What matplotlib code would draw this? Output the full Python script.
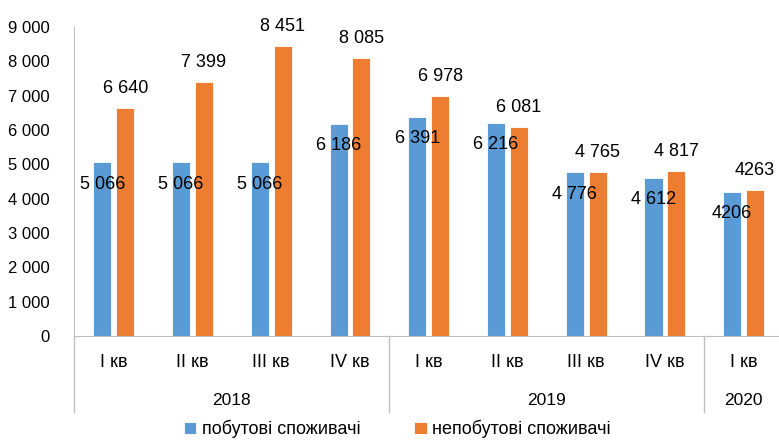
import numpy as np
import matplotlib.pyplot as plt

plt.rcParams['font.family'] = ['Liberation Sans', 'DejaVu Sans']

quarters = ["I кв", "II кв", "III кв", "IV кв", "I кв", "II кв", "III кв", "IV кв", "I кв"]
years = ["2018", "2019", "2020"]
year_sizes = [4, 4, 1]
pobutovi = [5066, 5066, 5066, 6186, 6391, 6216, 4776, 4612, 4206]
nepobutovi = [6640, 7399, 8451, 8085, 6978, 6081, 4765, 4817, 4263]
labels_pob = ["5 066", "5 066", "5 066", "6 186", "6 391", "6 216", "4 776", "4 612", "4206"]
labels_nepob = ["6 640", "7 399", "8 451", "8 085", "6 978", "6 081", "4 765", "4 817", "4263"]

blue = "#5B9BD5"
orange = "#ED7D31"

fig = plt.figure(figsize=(7.79, 4.40), dpi=100)
ax = fig.add_axes([0.0956, 0.2364, 0.9095, 0.7023])

x = np.arange(len(quarters))
w = 0.23
b1 = ax.bar(x - 0.145, pobutovi, w, color=blue, edgecolor="white", linewidth=0.6,
            label="побутові споживачі")
b2 = ax.bar(x + 0.145, nepobutovi, w, color=orange, edgecolor="white", linewidth=0.6,
            label="непобутові споживачі")

# підписи значень
for xi, v, t in zip(x, pobutovi, labels_pob):
    ax.annotate(t, (xi - 0.145, v), xytext=(0, -16), textcoords="offset points",
                ha="center", va="center", fontsize=13, color="black")
for xi, v, t in zip(x, nepobutovi, labels_nepob):
    ax.annotate(t, (xi + 0.145, v), xytext=(0, 14), textcoords="offset points",
                ha="center", va="center", fontsize=13, color="black",
                annotation_clip=False)

ax.set_xlim(-0.5, len(quarters) - 0.5)
ax.set_ylim(0, 9000)
ax.set_yticks(np.arange(0, 9001, 1000))
ax.set_yticklabels([f"{v:,}".replace(",", " ") for v in range(0, 9001, 1000)], fontsize=12)
ax.tick_params(axis="y", length=0, pad=18)
ax.set_xticks([])

for s in ["top", "right"]:
    ax.spines[s].set_visible(False)
ax.spines["left"].set_color("#BFBFBF")
ax.spines["bottom"].set_color("#BFBFBF")

# двохрівневі підписи осі X
trans = ax.get_xaxis_transform()
for xi, q in zip(x, quarters):
    ax.text(xi, -0.087, q, transform=trans, ha="center", va="center", fontsize=13)

start = 0
bounds = [-0.5]
for y, n in zip(years, year_sizes):
    ax.text(start + (n - 1) / 2, -0.21, y, transform=trans, ha="center", va="center", fontsize=12.5)
    start += n
    bounds.append(start - 0.5)
for bx in bounds:
    ax.plot([bx, bx], [0, -0.246], transform=trans, color="#BFBFBF", lw=1, clip_on=False)

fig.legend(handles=[b1, b2], loc="center", bbox_to_anchor=(0.51, 0.025), ncol=2,
           frameon=False, fontsize=13, handlelength=0.7, handleheight=0.7,
           handletextpad=0.3, columnspacing=3.0)

fig.savefig("out.png", dpi=100)
